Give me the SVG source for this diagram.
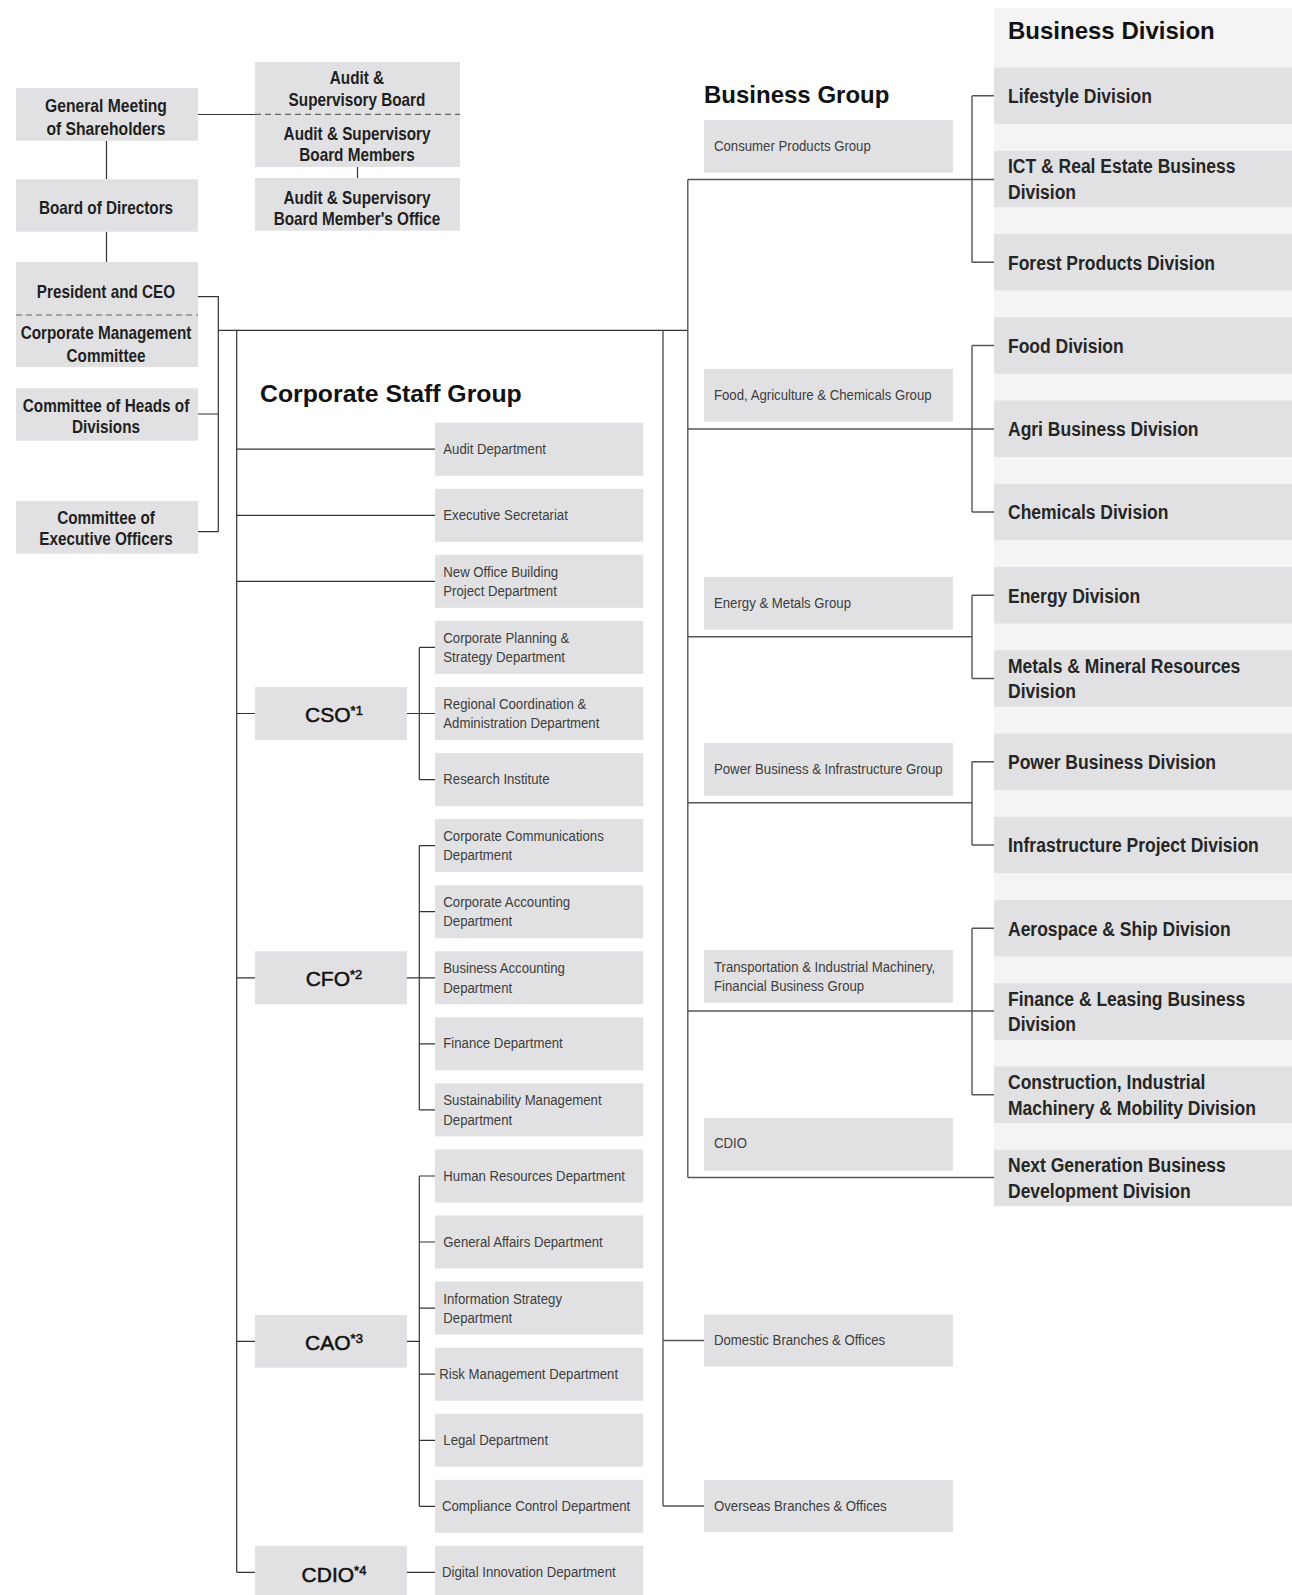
<svg xmlns="http://www.w3.org/2000/svg" width="1292" height="1595" viewBox="0 0 1292 1595">
<style>
.bx{fill:#e1e1e3}
.ln{stroke:#333;stroke-width:1.2;fill:none}
.lb{stroke:#555;stroke-width:1.4;fill:none}
.dash{stroke:#666;stroke-width:1.2;stroke-dasharray:6 4}
.h{font-family:"Liberation Sans",Arial,sans-serif;font-weight:bold;font-size:24px;fill:#111}
.lt{font-family:"Liberation Sans",Arial,sans-serif;font-weight:bold;font-size:18px;fill:#1f1f1f;text-anchor:middle;transform-box:fill-box;transform-origin:center;transform:scaleX(0.85)}
.dt{font-family:"Liberation Sans",Arial,sans-serif;font-size:15px;fill:#3d3d3d;transform-box:fill-box;transform-origin:left center;transform:scaleX(0.88)}
.dv{font-family:"Liberation Sans",Arial,sans-serif;font-weight:bold;font-size:20px;fill:#262626;transform-box:fill-box;transform-origin:left center;transform:scaleX(0.875)}
.of{font-family:"Liberation Sans",Arial,sans-serif;font-size:21px;fill:#111;stroke:#111;stroke-width:0.5;text-anchor:middle}
.sup{font-size:13px}
</style>
<rect x="994" y="8" width="298" height="1198" fill="#f4f4f4"/>
<g id="connectors">
<path class="ln" d="M198 114.5H255M357.5 167V178M106.5 140.7V179.3M106.5 231.7V262M198 296.7H218.3V531.7M198 414H218.3M198 531.7H218.3M218.3 330.3H687.8"/>
<path class="ln" d="M236.7 330.3V1572.4M236.7 449.2H435M236.7 515.3H435M236.7 581.3H435M236.7 713.5H255M407 713.5H435M419.3 647.4V779.6M419.3 647.4H435M419.3 779.6H435M236.7 977.8H255M407 977.8H419.3M419.3 845.6V1109.9M419.3 845.6H435M419.3 911.7H435M419.3 977.8H435M419.3 1043.8H435M419.3 1109.9H435M236.7 1341.3H255M407 1341.3H419.3M419.3 1176V1506.3M419.3 1176H435M419.3 1242H435M419.3 1308.1H435M419.3 1374.2H435M419.3 1440.3H435M419.3 1506.3H435M236.7 1572.4H255M407 1572.4H435"/>
<path class="lb" d="M663 330.3V1506M663 1340.5H704M663 1506H704"/>
<path class="lb" d="M687.8 179.5V1177.5M687.8 179.5H994M972 95.75V262.25M972 95.75H994M972 262.25H994M687.8 429H994M972 345.5V512M972 345.5H994M972 512H994M687.8 636.7H972M972 595.25V678.5M972 595.25H994M972 678.5H994M687.8 802.7H972M972 761.75V845M972 761.75H994M972 845H994M687.8 1011H994M972 928.25V1094.75M972 928.25H994M972 1094.75H994M687.8 1177.5H994"/>
</g>
<g id="gm"><rect class="bx" x="16" y="88" width="182" height="52.7"/><text class="lt" x="106" y="112.3" style="transform:scaleX(0.87)">General Meeting<tspan x="106" y="135">of Shareholders</tspan></text></g>
<g id="asb"><rect class="bx" x="255" y="62" width="205" height="105"/><line class="dash" x1="255" y1="114.3" x2="460" y2="114.3"/><text class="lt" x="357" y="84">Audit &amp;<tspan x="357" y="106">Supervisory Board</tspan></text><text class="lt" x="357" y="140">Audit &amp; Supervisory<tspan x="357" y="161">Board Members</tspan></text></g>
<g id="aso"><rect class="bx" x="255" y="178" width="205" height="52.7"/><text class="lt" x="357" y="204">Audit &amp; Supervisory<tspan x="357" y="225">Board Member's Office</tspan></text></g>
<g id="bod"><rect class="bx" x="16" y="179.3" width="182" height="52.4"/><text class="lt" x="106" y="214.3">Board of Directors</text></g>
<g id="ceo"><rect class="bx" x="16" y="262" width="182" height="105"/><line class="dash" x1="16" y1="315" x2="198" y2="315"/><text class="lt" x="106" y="298.3">President and CEO</text><text class="lt" x="106" y="339.3">Corporate Management<tspan x="106" y="361.7">Committee</tspan></text></g>
<g id="coh"><rect class="bx" x="16" y="388.3" width="182" height="52.4"/><text class="lt" x="106" y="412.3">Committee of Heads of<tspan x="106" y="433.3">Divisions</tspan></text></g>
<g id="ceo2"><rect class="bx" x="16" y="501" width="182" height="52.7"/><text class="lt" x="106" y="524">Committee of<tspan x="106" y="545">Executive Officers</tspan></text></g>
<text class="h" x="260" y="401.7" style="font-size:24.8px">Corporate Staff Group</text>
<text class="h" x="704" y="102.7">Business Group</text>
<text class="h" x="1008" y="39.3">Business Division</text>
<g id="cso"><rect class="bx" x="255" y="687" width="152" height="53"/><text class="of" x="334" y="721.7">CSO<tspan class="sup" dy="-7">*1</tspan></text></g>
<g id="cfo"><rect class="bx" x="255" y="951.3" width="152" height="53"/><text class="of" x="334" y="986">CFO<tspan class="sup" dy="-7">*2</tspan></text></g>
<g id="cao"><rect class="bx" x="255" y="1315" width="152" height="52.7"/><text class="of" x="334" y="1350">CAO<tspan class="sup" dy="-7">*3</tspan></text></g>
<g id="cdio"><rect class="bx" x="255" y="1545.9" width="152" height="53"/><text class="of" x="334" y="1581.7">CDIO<tspan class="sup" dy="-7">*4</tspan></text></g>
<g id="d0"><rect class="bx" x="435" y="422.7" width="208.3" height="53"/><text class="dt" x="443.3" y="453.9">Audit Department</text></g>
<g id="d1"><rect class="bx" x="435" y="488.8" width="208.3" height="53"/><text class="dt" x="443.3" y="520">Executive Secretariat</text></g>
<g id="d2"><rect class="bx" x="435" y="554.8" width="208.3" height="53"/><text class="dt" x="443.3" y="576.8">New Office Building<tspan x="443.3" y="596.1">Project Department</tspan></text></g>
<g id="d3"><rect class="bx" x="435" y="620.9" width="208.3" height="53"/><text class="dt" x="443.3" y="642.9">Corporate Planning &amp;<tspan x="443.3" y="662.2">Strategy Department</tspan></text></g>
<g id="d4"><rect class="bx" x="435" y="687" width="208.3" height="53"/><text class="dt" x="443.3" y="709">Regional Coordination &amp;<tspan x="443.3" y="728.3">Administration Department</tspan></text></g>
<g id="d5"><rect class="bx" x="435" y="753.1" width="208.3" height="53"/><text class="dt" x="443.3" y="784.3">Research Institute</text></g>
<g id="d6"><rect class="bx" x="435" y="819.1" width="208.3" height="53"/><text class="dt" x="443.3" y="841.1">Corporate Communications<tspan x="443.3" y="860.4">Department</tspan></text></g>
<g id="d7"><rect class="bx" x="435" y="885.2" width="208.3" height="53"/><text class="dt" x="443.3" y="907.2">Corporate Accounting<tspan x="443.3" y="926.5">Department</tspan></text></g>
<g id="d8"><rect class="bx" x="435" y="951.3" width="208.3" height="53"/><text class="dt" x="443.3" y="973.3">Business Accounting<tspan x="443.3" y="992.6">Department</tspan></text></g>
<g id="d9"><rect class="bx" x="435" y="1017.3" width="208.3" height="53"/><text class="dt" x="443.3" y="1048.5">Finance Department</text></g>
<g id="d10"><rect class="bx" x="435" y="1083.4" width="208.3" height="53"/><text class="dt" x="443.3" y="1105.4">Sustainability Management<tspan x="443.3" y="1124.7">Department</tspan></text></g>
<g id="d11"><rect class="bx" x="435" y="1149.5" width="208.3" height="53"/><text class="dt" x="443.3" y="1180.7">Human Resources Department</text></g>
<g id="d12"><rect class="bx" x="435" y="1215.5" width="208.3" height="53"/><text class="dt" x="443.3" y="1246.7">General Affairs Department</text></g>
<g id="d13"><rect class="bx" x="435" y="1281.6" width="208.3" height="53"/><text class="dt" x="443.3" y="1303.6">Information Strategy<tspan x="443.3" y="1322.9">Department</tspan></text></g>
<g id="d14"><rect class="bx" x="435" y="1347.7" width="208.3" height="53"/><text class="dt" x="439.3" y="1378.9">Risk Management Department</text></g>
<g id="d15"><rect class="bx" x="435" y="1413.8" width="208.3" height="53"/><text class="dt" x="443.3" y="1445">Legal Department</text></g>
<g id="d16"><rect class="bx" x="435" y="1479.8" width="208.3" height="53"/><text class="dt" x="442" y="1511">Compliance Control Department</text></g>
<g id="d17"><rect class="bx" x="435" y="1545.9" width="208.3" height="53"/><text class="dt" x="442" y="1577.1">Digital Innovation Department</text></g>
<g id="g0"><rect class="bx" x="704" y="120" width="249" height="52.7"/><text class="dt" x="714" y="151">Consumer Products Group</text></g>
<g id="g1"><rect class="bx" x="704" y="369" width="249" height="52.7"/><text class="dt" x="714" y="400">Food, Agriculture &amp; Chemicals Group</text></g>
<g id="g2"><rect class="bx" x="704" y="577" width="249" height="52.7"/><text class="dt" x="714" y="608">Energy &amp; Metals Group</text></g>
<g id="g3"><rect class="bx" x="704" y="743" width="249" height="52.7"/><text class="dt" x="714" y="774">Power Business &amp; Infrastructure Group</text></g>
<g id="g4"><rect class="bx" x="704" y="950" width="249" height="52.7"/><text class="dt" x="714" y="971.7">Transportation &amp; Industrial Machinery,<tspan x="714" y="990.7">Financial Business Group</tspan></text></g>
<g id="g5"><rect class="bx" x="704" y="1118" width="249" height="52.7"/><text class="dt" x="714" y="1148.5">CDIO</text></g>
<g id="g6"><rect class="bx" x="704" y="1314.5" width="249" height="52"/><text class="dt" x="714" y="1345.2">Domestic Branches &amp; Offices</text></g>
<g id="g7"><rect class="bx" x="704" y="1480" width="249" height="52"/><text class="dt" x="714" y="1510.7">Overseas Branches &amp; Offices</text></g>
<g id="v0"><rect class="bx" x="994" y="67.5" width="298" height="56.5"/><text class="dv" x="1008" y="103.3">Lifestyle Division</text></g>
<g id="v1"><rect class="bx" x="994" y="150.75" width="298" height="56.5"/><text class="dv" x="1008" y="173.5">ICT &amp; Real Estate Business<tspan x="1008" y="199">Division</tspan></text></g>
<g id="v2"><rect class="bx" x="994" y="234" width="298" height="56.5"/><text class="dv" x="1008" y="269.8">Forest Products Division</text></g>
<g id="v3"><rect class="bx" x="994" y="317.25" width="298" height="56.5"/><text class="dv" x="1008" y="353">Food Division</text></g>
<g id="v4"><rect class="bx" x="994" y="400.5" width="298" height="56.5"/><text class="dv" x="1008" y="436.3">Agri Business Division</text></g>
<g id="v5"><rect class="bx" x="994" y="483.75" width="298" height="56.5"/><text class="dv" x="1008" y="519.5">Chemicals Division</text></g>
<g id="v6"><rect class="bx" x="994" y="567" width="298" height="56.5"/><text class="dv" x="1008" y="602.8">Energy Division</text></g>
<g id="v7"><rect class="bx" x="994" y="650.25" width="298" height="56.5"/><text class="dv" x="1008" y="673">Metals &amp; Mineral Resources<tspan x="1008" y="698.5">Division</tspan></text></g>
<g id="v8"><rect class="bx" x="994" y="733.5" width="298" height="56.5"/><text class="dv" x="1008" y="769.3">Power Business Division</text></g>
<g id="v9"><rect class="bx" x="994" y="816.75" width="298" height="56.5"/><text class="dv" x="1008" y="852.5">Infrastructure Project Division</text></g>
<g id="v10"><rect class="bx" x="994" y="900" width="298" height="56.5"/><text class="dv" x="1008" y="935.8">Aerospace &amp; Ship Division</text></g>
<g id="v11"><rect class="bx" x="994" y="983.25" width="298" height="56.5"/><text class="dv" x="1008" y="1006">Finance &amp; Leasing Business<tspan x="1008" y="1031.5">Division</tspan></text></g>
<g id="v12"><rect class="bx" x="994" y="1066.5" width="298" height="56.5"/><text class="dv" x="1008" y="1089.3">Construction, Industrial<tspan x="1008" y="1114.8">Machinery &amp; Mobility Division</tspan></text></g>
<g id="v13"><rect class="bx" x="994" y="1149.75" width="298" height="56.5"/><text class="dv" x="1008" y="1172.5">Next Generation Business<tspan x="1008" y="1198">Development Division</tspan></text></g>
</svg>
